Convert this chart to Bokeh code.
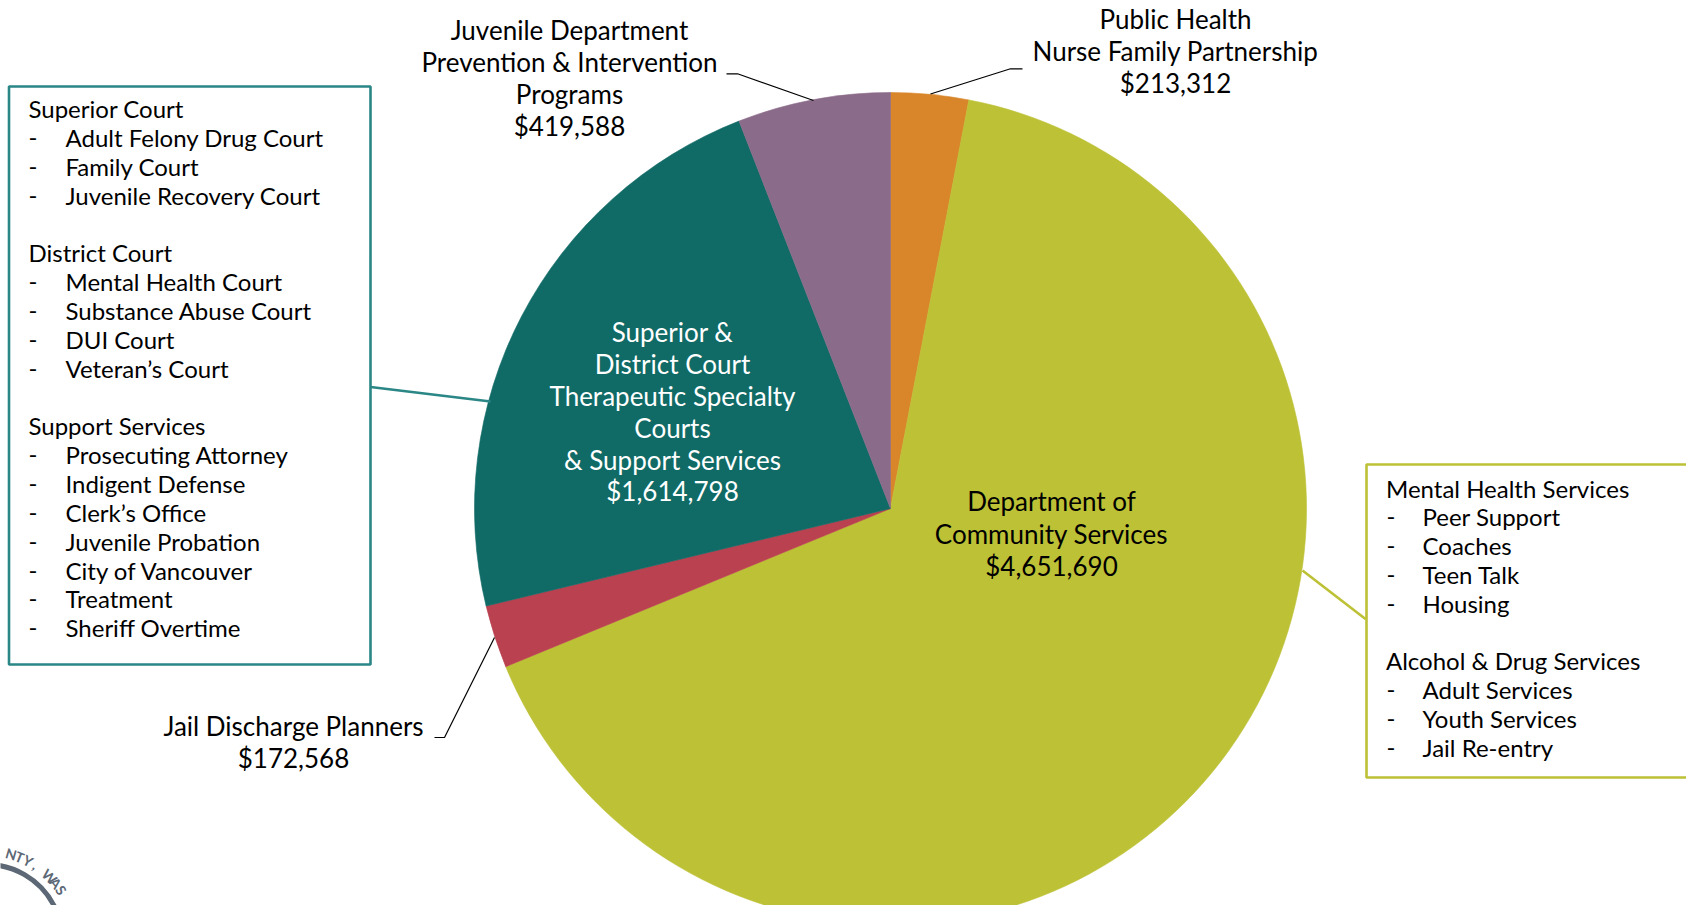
import math
from bokeh.plotting import figure
from bokeh.models import Range1d, ColumnDataSource
from bokeh.core.properties import value
from bokeh.embed import file_html
from bokeh.resources import INLINE

# ---------------- data ----------------
categories = ["Public Health|Nurse Family Partnership",
              "Department of|Community Services",
              "Jail Discharge Planners",
              "Superior &|District Court|Therapeutic Specialty|Courts|& Support Services",
              "Juvenile Department|Prevention & Intervention|Programs"]
values = [213312, 4651690, 172568, 1614798, 419588]
colors = ["#D9862B", "#BDC136", "#BA4150", "#106A66", "#8B6B8A"]

left_groups = ["Superior Court", "District Court", "Support Services"]
left_items = [["Adult Felony Drug Court", "Family Court", "Juvenile Recovery Court"],
              ["Mental Health Court", "Substance Abuse Court", "DUI Court", "Veteran\u2019s Court"],
              ["Prosecuting Attorney", "Indigent Defense", "Clerk\u2019s Office", "Juvenile Probation",
               "City of Vancouver", "Treatment", "Sheriff Overtime"]]
right_groups = ["Mental Health Services", "Alcohol & Drug Services"]
right_items = [["Peer Support", "Coaches", "Teen Talk", "Housing"],
               ["Adult Services", "Youth Services", "Jail Re-entry"]]

logo_text = "NTY, WAS"

# ---------------- layout helpers ----------------
WIN_H = 921
W, H = 1686, 905
TXT_DY = -2.2  # small vertical text correction
def S(y):  # picture y -> data y
    return WIN_H - y

FONT = "Lato"
p = figure(width=W, height=H, x_range=Range1d(0, W), y_range=Range1d(WIN_H - H, WIN_H),
           output_backend="svg", toolbar_location=None, min_border=0,
           x_axis_location=None, y_axis_location=None, outline_line_color=None)
p.grid.visible = False
p.background_fill_color = "white"
p.border_fill_color = "white"

# ---------------- pie ----------------
cx, cy, r = 890, S(508), 416
total = float(sum(values))
starts, ends = [], []
cum = 0.0
for v in values:
    a0 = math.pi / 2 - 2 * math.pi * (cum + v) / total
    a1 = math.pi / 2 - 2 * math.pi * cum / total
    starts.append(a0)
    ends.append(a1)
    cum += v
src = ColumnDataSource(dict(start=starts, end=ends, color=colors))
p.wedge(x=cx, y=cy, radius=r, start_angle="start", end_angle="end", direction="anticlock",
        fill_color="color", line_color="color", line_width=0.6, source=src)

# ---------------- slice labels ----------------
def money(v):
    return "${:,}".format(v)

label_pos = [  # (center x, first line y, line step, color)
    (1175, 21, 32, "black"),
    (1051, 503, 32.2, "black"),
    (293, 728, 31.5, "black"),
    (672, 334, 31.8, "white"),
    (569, 32, 31.8, "black"),
]
for cat, v, (lx, ly, step, col) in zip(categories, values, label_pos):
    lines = cat.split("|") + [money(v)]
    xs = [lx] * len(lines)
    ys = [S(ly + TXT_DY + i * step) for i in range(len(lines))]
    p.text(x=xs, y=ys, text=lines, text_align="center", text_baseline="middle",
           text_font=value(FONT), text_font_size="26px", text_color=col)

# leader lines (black)
p.line(x=[726, 737, 813], y=[S(73.3), S(73.3), S(100)], line_color="black", line_width=1.2)
p.line(x=[930, 1010, 1022], y=[S(93.5), S(68.3), S(68.3)], line_color="black", line_width=1.2)
p.line(x=[434, 444, 494], y=[S(737), S(737), S(637)], line_color="black", line_width=1.2)

# ---------------- left box ----------------
teal_line = "#2B8686"
p.quad(left=8.5, right=370, top=S(86), bottom=S(664), fill_color=None,
       line_color=teal_line, line_width=2.6)
p.line(x=[370, 490], y=[S(386.5), S(401)], line_color=teal_line, line_width=2.6)

step = 28.83
row = 0
top_l = 110.5 + TXT_DY
for g, items in zip(left_groups, left_items):
    y0 = top_l + row * step
    p.text(x=[28], y=[S(y0)], text=[g], text_align="left", text_baseline="middle",
           text_font=value(FONT), text_font_size="24px", text_color="black")
    row += 1
    ys = [S(top_l + (row + i) * step) for i in range(len(items))]
    p.text(x=[28] * len(items), y=ys, text=["-"] * len(items), text_align="left",
           text_baseline="middle", text_font=value(FONT), text_font_size="24px", text_color="black")
    p.text(x=[65] * len(items), y=ys, text=items, text_align="left", text_baseline="middle",
           text_font=value(FONT), text_font_size="24px", text_color="black")
    row += len(items) + 1

# ---------------- right box ----------------
olive_line = "#BDC136"
p.quad(left=1366, right=1760, top=S(464), bottom=S(777), fill_color=None,
       line_color=olive_line, line_width=2.6)
p.line(x=[1302, 1365], y=[S(570), S(618.5)], line_color=olive_line, line_width=2.6)

row = 0
top_r = 489.7 + TXT_DY
for g, items in zip(right_groups, right_items):
    y0 = top_r + row * step
    p.text(x=[1385.5], y=[S(y0)], text=[g], text_align="left", text_baseline="middle",
           text_font=value(FONT), text_font_size="24px", text_color="black")
    row += 1
    ys = [S(top_r + (row + i) * step) for i in range(len(items))]
    p.text(x=[1386] * len(items), y=ys, text=["-"] * len(items), text_align="left",
           text_baseline="middle", text_font=value(FONT), text_font_size="24px", text_color="black")
    p.text(x=[1422] * len(items), y=ys, text=items, text_align="left", text_baseline="middle",
           text_font=value(FONT), text_font_size="24px", text_color="black")
    row += len(items) + 1

# ---------------- partial seal (bottom-left) ----------------
logo_col = "#5C6875"
lcx, lcy = -14, S(940)
p.arc(x=lcx, y=lcy, radius=76, start_angle=math.radians(25), end_angle=math.radians(95),
      direction="anticlock", line_color=logo_col, line_width=5)
n = len(logo_text)
for i, ch in enumerate(logo_text):
    th = math.radians(16 + i * (40.0 / (n - 1)))
    tx = lcx + 90 * math.sin(th)
    ty = lcy + 90 * math.cos(th)
    p.text(x=[tx], y=[ty], text=[ch], angle=-th, text_align="center", text_baseline="middle",
           text_font=value(FONT), text_font_size="14px", text_font_style="bold", text_color=logo_col)

open("out.html", "w").write(file_html(p, INLINE))
